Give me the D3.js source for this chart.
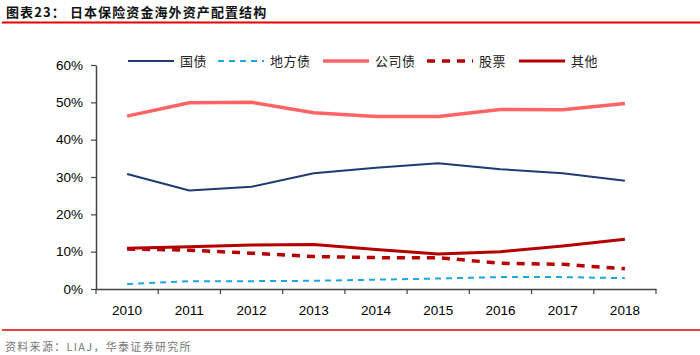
<!DOCTYPE html>
<html><head><meta charset="utf-8">
<script src="https://cdn.jsdelivr.net/npm/d3@7"></script>
<style>body{margin:0;background:#fff}svg{display:block}</style>
</head><body><svg id="c" width="700" height="355"></svg>
<script>
const years = ["2010","2011","2012","2013","2014","2015","2016","2017","2018"];
const guozhai = [30.8,26.4,27.4,31.0,32.5,33.7,32.1,31.0,29.0];
const difangzhai = [1.3,2.1,2.1,2.2,2.5,2.8,3.2,3.2,2.9];
const gongsizhai = [46.3,49.9,50.0,47.2,46.2,46.2,48.1,48.0,49.7];
const gupiao = [10.7,10.4,9.6,8.7,8.4,8.4,6.9,6.6,5.4];
const qita = [10.9,11.3,11.8,11.9,10.6,9.4,10.0,11.5,13.3];
const yTicks = [0,10,20,30,40,50,60];
const seriesNames = ["国债","地方债","公司债","股票","其他"];

const series = [
  {name:seriesNames[0], values:guozhai, color:"#1F3B73", width:2, dash:null},
  {name:seriesNames[1], values:difangzhai, color:"#1AA7E6", width:2, dash:"6,5"},
  {name:seriesNames[2], values:gongsizhai, color:"#FF6464", width:3.5, dash:null},
  {name:seriesNames[3], values:gupiao, color:"#B80000", width:3.5, dash:"8,7"},
  {name:seriesNames[4], values:qita, color:"#B40000", width:3, dash:null}
];

const svg = d3.select("#c");
const cjk = "'Noto Sans CJK SC', sans-serif";
const lat = "'Liberation Sans', Arial, sans-serif";

// header
svg.append("text").attr("x",6).attr("y",17).attr("font-family",cjk).attr("font-weight","bold")
  .attr("font-size",13).attr("letter-spacing",1.1).attr("fill","#111").text("图表23：  日本保险资金海外资产配置结构");
svg.append("line").attr("x1",2).attr("x2",700).attr("y1",22.5).attr("y2",22.5).attr("stroke","#E60000").attr("stroke-width",2);
svg.append("line").attr("x1",2).attr("x2",700).attr("y1",330).attr("y2",330).attr("stroke","#E60000").attr("stroke-width",1.5);
svg.append("text").attr("x",5).attr("y",351).attr("font-family",cjk).attr("font-size",11)
  .attr("letter-spacing",1.3).attr("fill","#777").text("资料来源：LIAJ，华泰证券研究所");

const x = d3.scaleBand().domain(years).range([96,656]);
const y = d3.scaleLinear().domain([0,60]).range([289,65]);

const xAxis = svg.append("g").attr("transform","translate(0,289)")
  .call(d3.axisBottom(x).tickSizeInner(5).tickSizeOuter(0));
xAxis.selectAll(".tick line").remove();
const edges = years.map(d=>x(d)).concat([x.range()[1]]);
xAxis.selectAll(".edge").data(edges).enter().append("line")
  .attr("x1",d=>d).attr("x2",d=>d).attr("y1",0).attr("y2",5).attr("stroke","#444").attr("stroke-width",1.2);
xAxis.select(".domain").attr("stroke","#444").attr("stroke-width",1.5).attr("d","M96,0.5H656.5");
xAxis.selectAll("text").attr("font-family",lat).attr("font-size",13.5).attr("fill","#000").attr("dy","1.3em");

const yAxis = svg.append("g").attr("transform","translate(96,0)")
  .call(d3.axisLeft(y).tickValues(yTicks).tickFormat(d=>d+"%").tickSizeInner(5).tickSizeOuter(0));
yAxis.select(".domain").attr("stroke","#444").attr("stroke-width",1.5);
yAxis.selectAll(".tick line").attr("stroke","#444").attr("stroke-width",1.2);
yAxis.selectAll("text").attr("font-family",lat).attr("font-size",13.5).attr("fill","#000").attr("x",-13);

const line = d3.line().x((d,i)=>x(years[i])+x.bandwidth()/2).y(d=>y(d));
series.forEach(s=>{
  svg.append("path").attr("d",line(s.values)).attr("fill","none")
    .attr("stroke",s.color).attr("stroke-width",s.width)
    .attr("stroke-dasharray",s.dash).attr("stroke-linejoin","round");
});

// legend
const legendX = [128,218,323,427,519];
const lg = svg.append("g");
series.forEach((s,i)=>{
  const lx = legendX[i];
  lg.append("line").attr("x1",lx).attr("x2",lx+46).attr("y1",61).attr("y2",61)
    .attr("stroke",s.color).attr("stroke-width",s.width).attr("stroke-dasharray",s.dash);
  lg.append("text").attr("x",lx+52).attr("y",65.5).attr("font-family",cjk).attr("font-size",13)
    .attr("letter-spacing",0.5).attr("fill","#222").text(s.name);
});
</script></body></html>
